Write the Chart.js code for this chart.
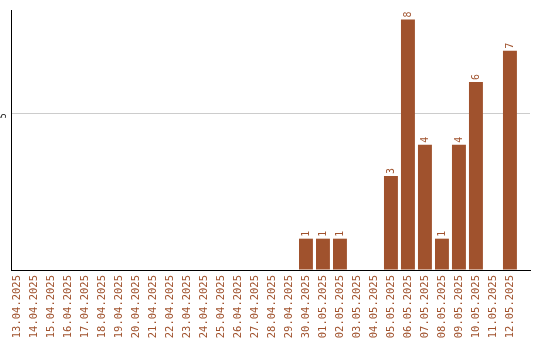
<!DOCTYPE html>
<html>
<head>
<meta charset="utf-8">
<script src="https://cdn.jsdelivr.net/npm/chart.js@4"></script>
<style>
  body { margin: 0; background: #fff; }
  #wrap { width: 540px; height: 340px; }
</style>
</head>
<body>
<div id="wrap"><canvas id="dayChart"></canvas></div>
<script>
const days = ['13.04.2025', '14.04.2025', '15.04.2025', '16.04.2025', '17.04.2025', '18.04.2025',
  '19.04.2025', '20.04.2025', '21.04.2025', '22.04.2025', '23.04.2025', '24.04.2025',
  '25.04.2025', '26.04.2025', '27.04.2025', '28.04.2025', '29.04.2025', '30.04.2025',
  '01.05.2025', '02.05.2025', '03.05.2025', '04.05.2025', '05.05.2025', '06.05.2025',
  '07.05.2025', '08.05.2025', '09.05.2025', '10.05.2025', '11.05.2025', '12.05.2025'];
const counts = [0, 0, 0, 0, 0, 0, 0, 0, 0, 0, 0, 0, 0, 0, 0, 0, 0, 1, 1, 1, 0, 0, 3, 8, 4, 1, 4, 6, 0, 7];
const yTicks = [5];

const brown = '#a0522d';
const monoFont = '"DejaVu Sans Mono", monospace';

// value labels above bars, rotated
const barLabels = {
  id: 'barLabels',
  afterDatasetsDraw(chart) {
    const ctx = chart.ctx;
    const meta = chart.getDatasetMeta(0);
    ctx.save();
    ctx.fillStyle = brown;
    ctx.font = '10px ' + monoFont;
    ctx.textAlign = 'left';
    ctx.textBaseline = 'middle';
    meta.data.forEach(function (bar, i) {
      if (!counts[i]) return;
      ctx.save();
      ctx.translate(bar.x, bar.y - 2);
      ctx.rotate(-Math.PI / 2);
      ctx.fillText(String(counts[i]), 0, 0);
      ctx.restore();
    });
    ctx.restore();
  }
};

// rotated y tick label
const yLabels = {
  id: 'yLabels',
  afterDraw(chart) {
    const ctx = chart.ctx;
    const y = chart.scales.y;
    ctx.save();
    ctx.fillStyle = '#000';
    ctx.font = '8px ' + monoFont;
    ctx.textAlign = 'right';
    ctx.textBaseline = 'middle';
    yTicks.forEach(function (v) {
      ctx.save();
      ctx.translate(chart.chartArea.left - 7, y.getPixelForValue(v));
      ctx.rotate(-Math.PI / 2);
      ctx.fillText(String(v), 0, 0);
      ctx.restore();
    });
    ctx.restore();
  }
};

new Chart(document.getElementById('dayChart'), {
  type: 'bar',
  data: {
    labels: days,
    datasets: [{
      data: counts,
      backgroundColor: brown,
      barPercentage: 0.82,
      categoryPercentage: 1
    }]
  },
  options: {
    responsive: true,
    maintainAspectRatio: false,
    animation: false,
    layout: { padding: { left: 11, right: 10, top: 10, bottom: 0 } },
    plugins: { legend: { display: false }, tooltip: { enabled: false } },
    scales: {
      x: {
        grid: { display: false, drawTicks: false },
        border: { color: '#000', width: 1 },
        ticks: {
          color: brown,
          font: { family: monoFont, size: 10.5 },
          autoSkip: false,
          minRotation: 90,
          maxRotation: 90,
          padding: 5
        },
        afterFit(scale) { scale.height = 70; },
        // leave a little empty room at the right end of the axis
        afterBuildTicks(scale) {
          scale._startValue = -0.35;
          scale._valueRange = 30.53;
        }
      },
      y: {
        min: 0,
        max: 8.3,
        border: { color: '#000', width: 1 },
        grid: {
          drawTicks: false,
          color: function (c) { return yTicks.includes(c.tick.value) ? '#cccccc' : 'rgba(0,0,0,0)'; }
        },
        ticks: { display: false, stepSize: 5 }
      }
    }
  },
  plugins: [barLabels, yLabels]
});
</script>
</body>
</html>
